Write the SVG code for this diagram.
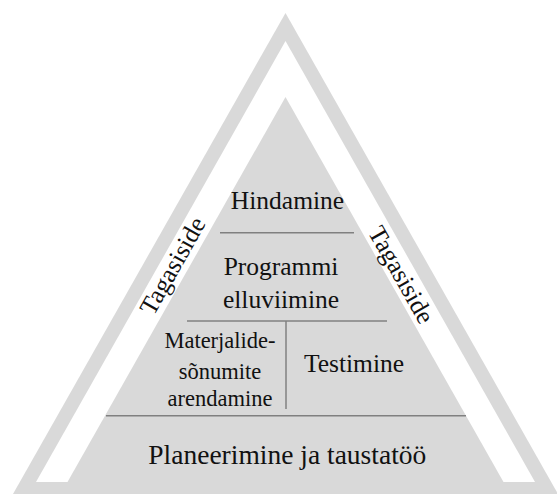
<svg xmlns="http://www.w3.org/2000/svg" width="557" height="494" viewBox="0 0 557 494">
  <style>
    .shape { fill: #d9d9d9; }
    .band { fill: #ffffff; }
    text { font-family: 'Liberation Serif', 'DejaVu Serif', serif; font-size: 25.5px; fill: #111111; text-anchor: middle; }
    .small { font-size: 22.5px; }
    .big { font-size: 27.5px; }
    .div { stroke: #808080; stroke-width: 1.5; fill: none; }
  </style>
  <rect width="557" height="494" fill="#ffffff"/>
  <g id="frame">
    <polygon class="shape" points="285.5,13 13,494 558,494"/>
    <polygon class="band" points="285.5,41 36,482 535,482"/>
    <polygon class="shape" points="285.5,97 67.5,482 503.5,482"/>
  </g>
  <g id="dividers">
    <line class="div" x1="220" y1="232.7" x2="354" y2="232.7"/>
    <line class="div" x1="187" y1="321" x2="387" y2="321"/>
    <line class="div" x1="286" y1="321" x2="286" y2="409"/>
    <line class="div" x1="106" y1="415.7" x2="466" y2="415.7"/>
  </g>
  <g id="hindamine">
    <text x="287.5" y="209.3">Hindamine</text>
  </g>
  <g id="programmi">
    <text x="281" y="275">Programmi</text>
    <text x="281" y="307.7">elluviimine</text>
  </g>
  <g id="materjalide">
    <text class="small" x="220" y="348.3">Materjalide-</text>
    <text class="small" x="220" y="379">sõnumite</text>
    <text class="small" x="220" y="406">arendamine</text>
  </g>
  <g id="testimine">
    <text x="354" y="371.7">Testimine</text>
  </g>
  <g id="planeerimine">
    <text class="big" x="287.3" y="464.3">Planeerimine ja taustatöö</text>
  </g>
  <g id="tagasiside-left">
    <text transform="translate(173,266) rotate(-60.5)" x="0" y="8">Tagasiside</text>
  </g>
  <g id="tagasiside-right">
    <text transform="translate(401,275) rotate(60.5)" x="0" y="8">Tagasiside</text>
  </g>
</svg>
